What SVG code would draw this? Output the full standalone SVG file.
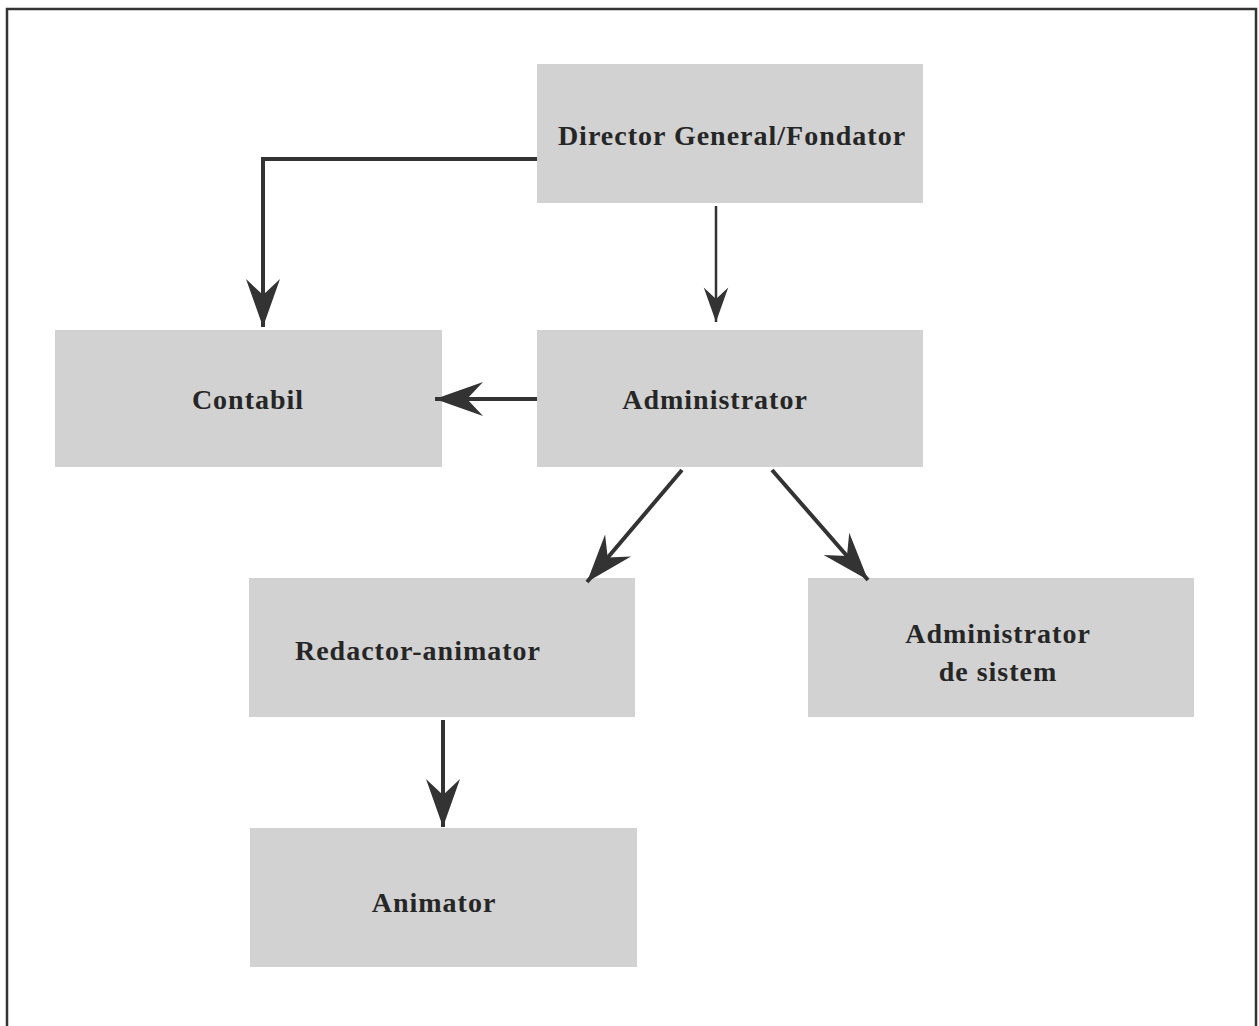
<svg xmlns="http://www.w3.org/2000/svg" width="1259" height="1026" viewBox="0 0 1259 1026">
<style>
.box{fill:#d2d2d2;}
.lbl{font-family:"Liberation Serif","Times New Roman",serif;font-weight:bold;font-size:28px;fill:#262626;text-anchor:middle;letter-spacing:1px;}
.con{fill:none;stroke:#333;stroke-width:4;}
.thin{stroke-width:2.5;}
</style>
<defs>
<marker id="ah" viewBox="0 0 50 36" refX="48" refY="18" markerWidth="50" markerHeight="36" markerUnits="userSpaceOnUse" orient="auto">
<path d="M48,18 L0,1 L16,18 L0,35 Z" fill="#333"/>
</marker>
<marker id="ahs" viewBox="0 0 50 36" refX="48" refY="18" markerWidth="36" markerHeight="26" markerUnits="userSpaceOnUse" orient="auto">
<path d="M48,18 L0,1 L16,18 L0,35 Z" fill="#333"/>
</marker>
</defs>
<rect x="0" y="0" width="1259" height="1026" fill="#fff"/>
<path d="M7,1026 L7,9 L1256,9 L1256,1026" fill="none" stroke="#333" stroke-width="2.5"/>
<g id="director"><rect class="box" x="537" y="64" width="386" height="139"/><text class="lbl" x="732" y="145">Director General/Fondator</text></g>
<g id="contabil"><rect class="box" x="55" y="330" width="387" height="137"/><text class="lbl" x="248" y="409">Contabil</text></g>
<g id="administrator"><rect class="box" x="537" y="330" width="386" height="137"/><text class="lbl" x="715" y="409">Administrator</text></g>
<g id="redactor"><rect class="box" x="249" y="578" width="386" height="139"/><text class="lbl" x="418" y="660">Redactor-animator</text></g>
<g id="adminsistem"><rect class="box" x="808" y="578" width="386" height="139"/><text class="lbl" x="998" y="643">Administrator</text><text class="lbl" x="998" y="681">de sistem</text></g>
<g id="animator"><rect class="box" x="250" y="828" width="387" height="139"/><text class="lbl" x="434" y="912">Animator</text></g>
<g id="connectors">
<path class="con" d="M537,159 L263,159 L263,327" marker-end="url(#ah)"/>
<path class="con thin" d="M716,206 L716,322" marker-end="url(#ahs)"/>
<path class="con" d="M537,399 L435,399" marker-end="url(#ah)"/>
<path class="con" d="M682,470 L587,582" marker-end="url(#ah)"/>
<path class="con" d="M772,470 L868,580" marker-end="url(#ah)"/>
<path class="con" d="M443,720 L443,827" marker-end="url(#ah)"/>
</g>
</svg>
